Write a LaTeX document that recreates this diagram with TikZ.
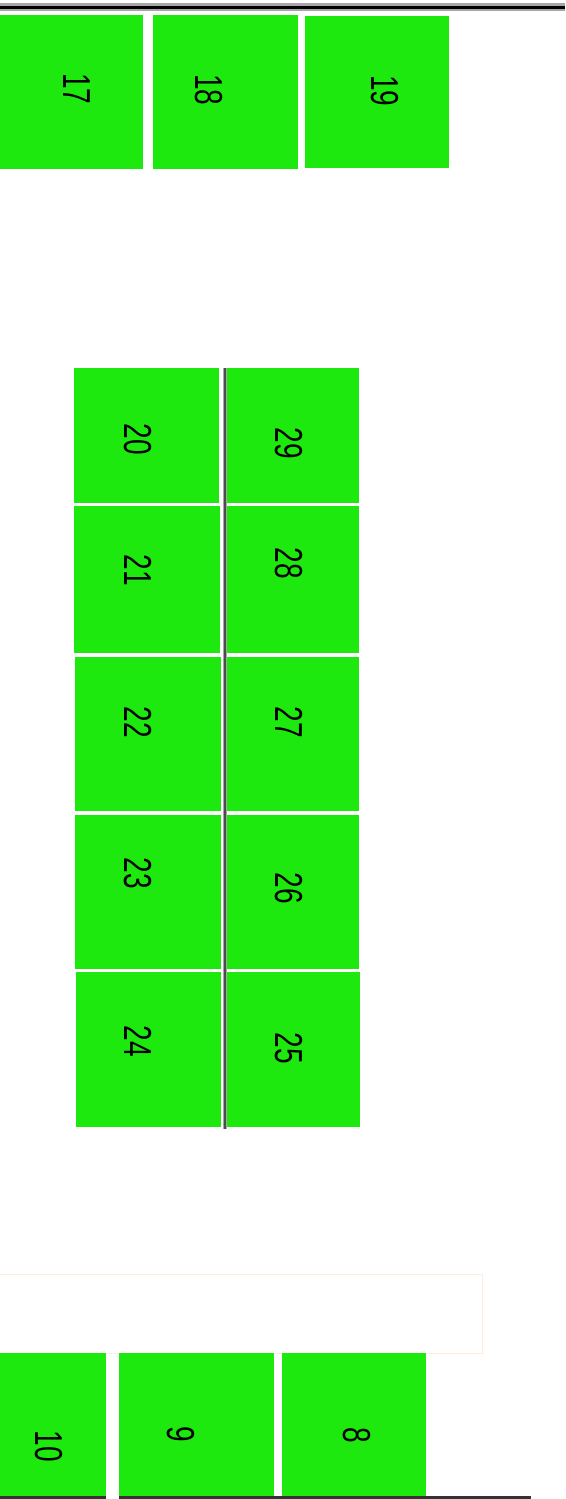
\documentclass[tikz,border=0pt]{standalone}
\usepackage{fontspec}
\setmainfont{Liberation Sans}
\definecolor{boxgreen}{RGB}{29,233,15}
\definecolor{faintorange}{RGB}{252,238,218}
\newcommand\gbox[5]{\node[gbox,anchor=north west,minimum width={#4pt-#2pt},minimum height={#5pt-#3pt}] (#1) at (#2,#3) {};}
\newcommand\glabel[4]{\node[glab] (#1) at (#2,#3) {\scalebox{0.72}[1]{#4}};}
\begin{document}
\begin{tikzpicture}[x=1pt,y=-1pt,
  gbox/.style={fill=boxgreen,draw=none,inner sep=0pt,outer sep=0pt,rectangle},
  glab/.style={rotate=-90,inner sep=0pt,font=\fontsize{39}{39}\selectfont,text=black},
  topline/.style={line width=8pt,color=black!35},
  topcore/.style={line width=3pt,color=black},
  botline/.style={line width=3pt,color=black!80},
  divider/.style={line width=4pt,color=black!35},
  dividercore/.style={line width=2pt,color=black!70}]
\useasboundingbox (0,0) rectangle (565,1499);
\fill[white] (0,0) rectangle (565,1499);
% top rule
\coordinate (tl) at (0,7);
\coordinate (tr) at (565,7);
\draw[topline] (tl) -- (tr);
\draw[topcore] (tl) -- (tr);
% top row
\gbox{b17}{0}{15}{143}{169}
\gbox{b18}{153}{15}{298}{169}
\gbox{b19}{305}{16}{449}{168}
\glabel{l17}{77}{89}{17}
\glabel{l18}{209}{90}{18}
\glabel{l19}{385}{91}{19}
% middle grid
\gbox{b20}{74}{368}{219}{503}
\gbox{b29}{227}{368}{359}{503}
\gbox{b21}{74}{506}{220}{653}
\gbox{b28}{227}{506}{359}{653}
\gbox{b22}{75}{657}{221}{811}
\gbox{b27}{227}{657}{359}{811}
\gbox{b23}{75}{815}{221}{969}
\gbox{b26}{227}{815}{359}{969}
\gbox{b24}{76}{972}{221}{1127}
\gbox{b25}{227}{972}{360}{1127}
\coordinate (dtop) at (224.5,368);
\coordinate (dbot) at (224.5,1129);
\draw[divider] (dtop) -- (dbot);
\draw[dividercore] (dtop) -- (dbot);
\glabel{l20}{138}{439}{20}
\glabel{l21}{138}{570}{21}
\glabel{l22}{138}{722}{22}
\glabel{l23}{138}{873}{23}
\glabel{l24}{138}{1041}{24}
\glabel{l29}{289}{443}{29}
\glabel{l28}{289}{563}{28}
\glabel{l27}{289}{722}{27}
\glabel{l26}{289}{888}{26}
\glabel{l25}{289}{1048}{25}
% faint frame
\coordinate (fa) at (-1,1274);
\coordinate (fb) at (482,1353);
\draw[faintorange,line width=1pt] (fa) rectangle (fb);
% bottom row
\gbox{b10}{0}{1353}{106}{1497}
\gbox{b9}{119}{1353}{274}{1497}
\gbox{b8}{282}{1353}{426}{1497}
\glabel{l10}{49}{1446}{10}
\glabel{l9}{181}{1434}{9}
\glabel{l8}{357}{1435}{8}
% bottom rule
\coordinate (bl) at (0,1497.5);
\coordinate (bm1) at (106,1497.5);
\coordinate (bm2) at (119,1497.5);
\coordinate (br) at (531,1497.5);
\draw[botline] (bl) -- (bm1);
\draw[botline] (bm2) -- (br);
\end{tikzpicture}
\end{document}
